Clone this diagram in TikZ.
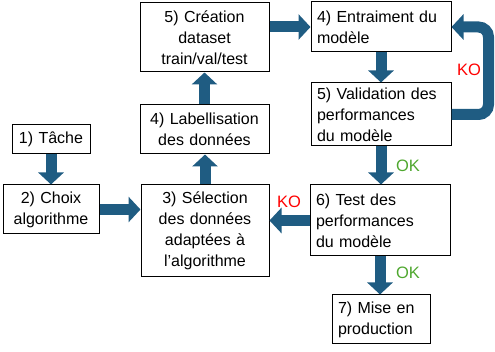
\documentclass[tikz,border=0pt]{standalone}
\usepackage{fontspec}
\setmainfont{Liberation Sans}
\usetikzlibrary{arrows.meta}

\definecolor{flowblue}{HTML}{1F5C82}
\definecolor{okgreen}{HTML}{4EA72E}
\definecolor{kored}{HTML}{FF0000}

\begin{document}
\begin{tikzpicture}[x=1pt, y=-1pt,
    box/.style={draw=black, line width=1pt, fill=white, inner xsep=4pt, inner ysep=0pt,
                align=center, font=\fontsize{16}{21}\selectfont},
    lbox/.style={box, align=left, inner xsep=6pt},
    flow/.style={draw=flowblue, line width=11pt, -{Triangle[length=12pt, width=25pt]}},
    ok/.style={text=okgreen, font=\fontsize{16.5}{21}\selectfont},
    ko/.style={text=kored, font=\fontsize{16.5}{21}\selectfont}]
    \useasboundingbox (0,0) rectangle (495,352);

    % steps of the workflow
    \node (tache)[box, text width=70pt, minimum height=29pt] at (51, 139.5) {1) Tâche};
    \node (choix)[box, text width=88pt, minimum height=49pt] at (51, 209.5) {2) Choix\\algorithme};
    \node (sel)[box, text width=120pt, minimum height=92pt] at (205, 231) {3) Sélection\\des données\\adaptées à\\l’algorithme};
    \node (lab)[box, text width=121pt, minimum height=49pt] at (204.5, 129.5) {4) Labellisation\\des données};
    \node (cre)[box, text width=121pt, minimum height=69pt] at (204.5, 37.5) {5) Création\\dataset\\train/val/test};
    \node (entr)[lbox, text width=128pt, minimum height=50pt] at (381, 27) {4) Entraiment du\\modèle};
    \node (valid)[lbox, text width=128pt, minimum height=63pt] at (381, 114.5) {5) Validation des\\performances\\du modèle};
    \node (test)[lbox, text width=128pt, minimum height=71pt] at (380, 220.5) {6) Test des\\performances\\du modèle};
    \node (prod)[lbox, text width=86pt, minimum height=49pt] at (381, 319.5) {7) Mise en\\production};

    % arrows
    \draw[flow] (tache.south) -- (choix.north);
    \draw[flow] (choix.east) -- (choix.east -| sel.west);
    \draw[flow] (sel.north) -- (sel.north |- lab.south);
    \draw[flow] (lab.north) -- (cre.south);
    \draw[flow] (cre.east |- entr.west) -- (entr.west);
    \draw[flow] (entr.south) -- (valid.north);
    \draw[flow, rounded corners=10pt] (valid.east) -- ++(37,0) |- (entr.east);
    \draw[flow] (valid.south) -- (valid.south |- test.north);
    \draw[flow] (test.west) -- (test.west -| sel.east);
    \draw[flow] (test.south) -- (test.south |- prod.north);

    % decisions
    \node (ko1)[ko] at (469, 70) {KO};
    \node (ok1)[ok] at (408, 166) {OK};
    \node (ko2)[ko] at (289, 202) {KO};
    \node (ok2)[ok] at (408, 273) {OK};
\end{tikzpicture}
\end{document}
